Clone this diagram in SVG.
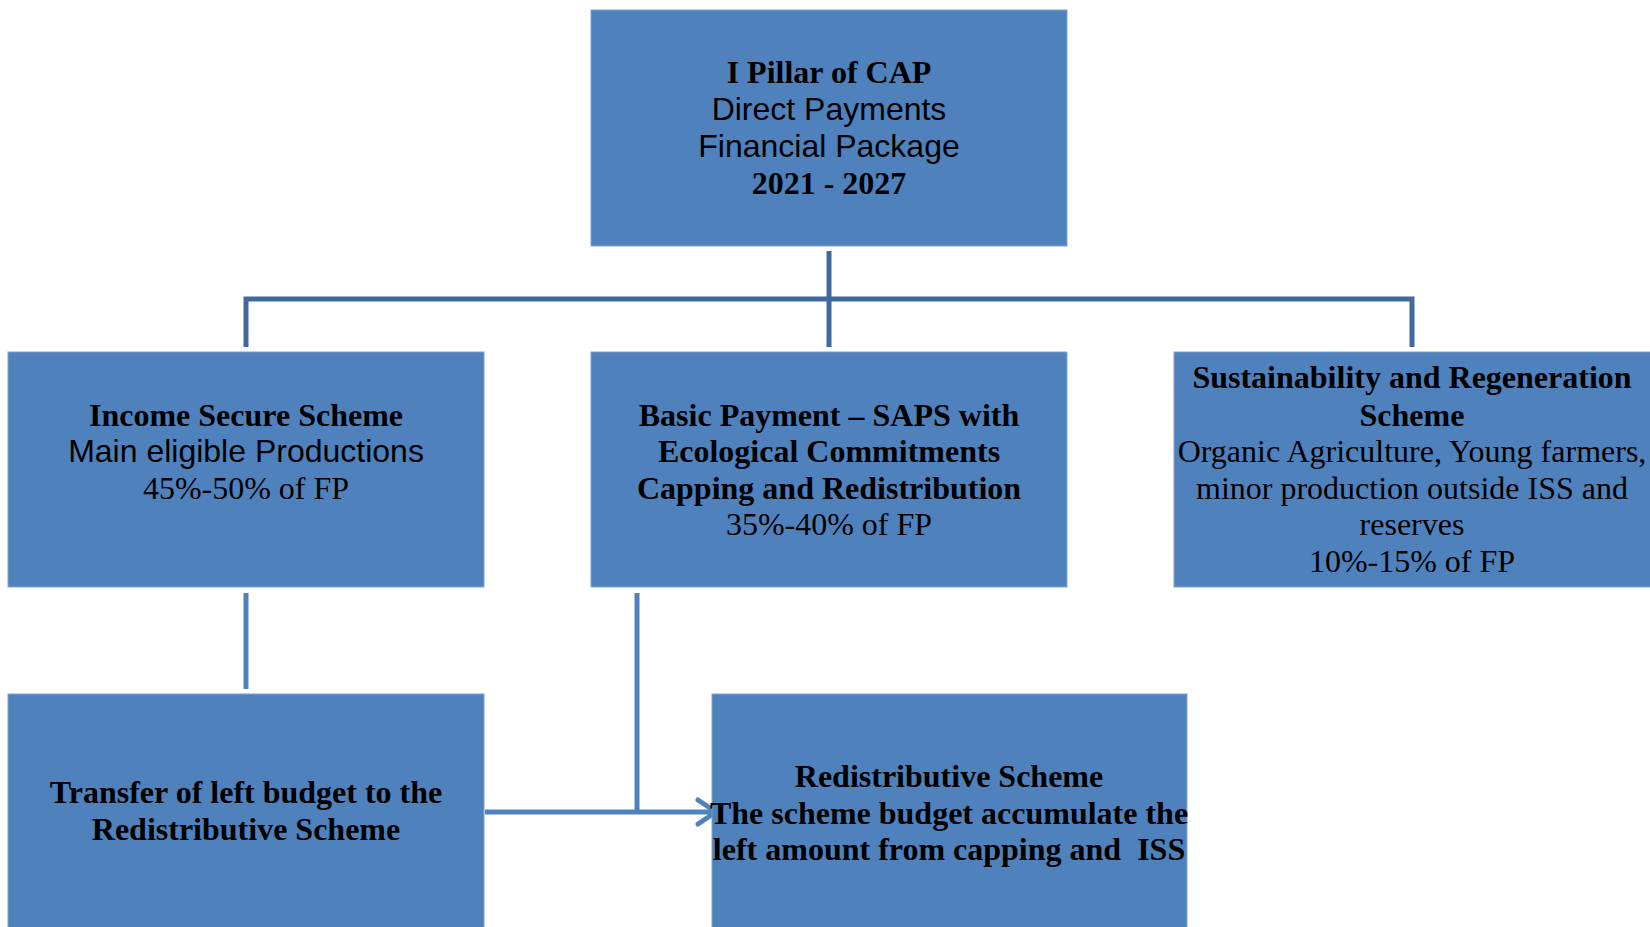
<svg xmlns="http://www.w3.org/2000/svg" width="1650" height="927" viewBox="0 0 1650 927">
<defs>
<style>
.box{fill:#4F81BD;stroke:#7FA1CF;stroke-width:1}
.tb{font-family:"Liberation Serif","Times New Roman",serif;font-weight:bold;font-size:32px;fill:#000;text-anchor:middle}
.tr{font-family:"Liberation Serif","Times New Roman",serif;font-size:32px;fill:#000;text-anchor:middle}
.sa{font-family:"Liberation Sans",Arial,sans-serif;font-size:32px;fill:#000;text-anchor:middle}
.c1{fill:none;stroke:#41699D;stroke-width:5}
.c2{fill:none;stroke:#4F81BD;stroke-width:5}
</style>
<marker id="arr" markerWidth="8" markerHeight="10" refX="6" refY="5" orient="auto" markerUnits="userSpaceOnUse" viewBox="0 0 8 10" overflow="visible">
<path d="M-12,-7 L6,5 L-12,17" fill="none" stroke="#4F81BD" stroke-width="5" stroke-linecap="round" stroke-linejoin="round"/>
</marker>
</defs>
<rect width="1650" height="927" fill="#fff"/>
<g id="connectors">
<path class="c1" d="M829,251 V347"/>
<path class="c1" d="M246,347 V299 H1412 V347"/>
<path class="c2" d="M246,593 V689"/>
<path class="c2" d="M637,593 V812"/>
<path class="c2" d="M485,812 H716" marker-end="url(#arr)"/>
</g>
<g id="pillar">
<rect class="box" x="591" y="10" width="476" height="236"/>
<text class="tb" x="829" y="83">I Pillar of CAP</text>
<text class="sa" x="829" y="120">Direct Payments</text>
<text class="sa" x="829" y="157">Financial Package</text>
<text class="tb" x="829" y="194">2021 - 2027</text>
</g>
<g id="income">
<rect class="box" x="8" y="352" width="476" height="235"/>
<text class="tb" x="246" y="426">Income Secure Scheme</text>
<text class="sa" x="246" y="462">Main eligible Productions</text>
<text class="tr" x="246" y="499">45%-50% of FP</text>
</g>
<g id="basic">
<rect class="box" x="591" y="352" width="476" height="235"/>
<text class="tb" x="829" y="426">Basic Payment – SAPS with</text>
<text class="tb" x="829" y="462">Ecological Commitments</text>
<text class="tb" x="829" y="499">Capping and Redistribution</text>
<text class="tr" x="829" y="535">35%-40% of FP</text>
</g>
<g id="sustainability">
<rect class="box" x="1174" y="352" width="477" height="235"/>
<text class="tb" x="1412" y="388">Sustainability and Regeneration</text>
<text class="tb" x="1412" y="426">Scheme</text>
<text class="tr" x="1412" y="462">Organic Agriculture, Young farmers,</text>
<text class="tr" x="1412" y="499">minor production outside ISS and</text>
<text class="tr" x="1412" y="535">reserves</text>
<text class="tr" x="1412" y="572">10%-15% of FP</text>
</g>
<g id="transfer">
<rect class="box" x="8" y="694" width="476" height="240"/>
<text class="tb" x="246" y="803">Transfer of left budget to the</text>
<text class="tb" x="246" y="840">Redistributive Scheme</text>
</g>
<g id="redistributive">
<rect class="box" x="712" y="694" width="475" height="240"/>
<text class="tb" x="949" y="787">Redistributive Scheme</text>
<text class="tb" x="949" y="824">The scheme budget accumulate the</text>
<text class="tb" x="949" y="860" xml:space="preserve">left amount from capping and  ISS</text>
</g>
</svg>
